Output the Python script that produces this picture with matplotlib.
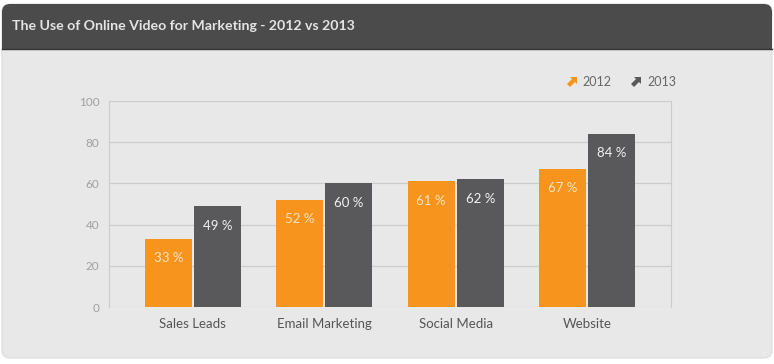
import numpy as np
import matplotlib.pyplot as plt
from matplotlib.patches import FancyBboxPatch, Rectangle, Polygon

plt.rcParams['font.family'] = ['Lato', 'DejaVu Sans']

categories = ['Sales Leads', 'Email Marketing', 'Social Media', 'Website']
v2012 = [33, 52, 61, 67]
v2013 = [49, 60, 62, 84]
yticks = [0, 20, 40, 60, 80, 100]

orange = '#f7941e'
dark = '#59595b'
panel = '#e8e8e8'

fig = plt.figure(figsize=(7.74, 3.64), dpi=100)
fig.patch.set_facecolor('white')

# background panel in pixel coords
bg = fig.add_axes([0, 0, 1, 1])
bg.set_xlim(0, 774)
bg.set_ylim(364, 0)
bg.axis('off')
bg.add_patch(FancyBboxPatch((2, 4), 770, 354, boxstyle='round,pad=0,rounding_size=8',
                            fc=panel, ec='#dcdcdc', lw=0.8))
bg.add_patch(FancyBboxPatch((2, 4), 770, 45, boxstyle='round,pad=0,rounding_size=8',
                            fc='#4b4b4b', ec='none'))
bg.add_patch(Rectangle((2, 30), 770, 19, fc='#4b4b4b', ec='none'))
bg.plot([2, 772], [49, 49], color='#333333', lw=1)
bg.text(12, 26, 'The Use of Online Video for Marketing - 2012 vs 2013', color='#e4e4e4',
        fontsize=10.2, fontweight='bold', va='center', ha='left')


# legend arrow icons (heavy north-east arrow)
def arrow_icon(x0, y0, col, s=1.0):
    pts = [(10, 10), (10, 3), (8, 5), (3, 0), (0, 3), (5, 8), (3, 10)]
    pts = [(x0 + px * s, y0 - py * s) for px, py in pts]
    bg.add_patch(Polygon(pts, closed=True, fc=col, ec='none'))


arrow_icon(567, 87, orange)
bg.text(582, 82, '2012', color='#666666', fontsize=9, va='center', ha='left')
arrow_icon(631, 87, dark)
bg.text(647, 82, '2013', color='#666666', fontsize=9, va='center', ha='left')

ax = fig.add_axes([109 / 774, 1 - 307 / 364, 562 / 774, 206 / 364])
ax.set_facecolor('none')
x = np.arange(len(categories))
w = 0.357
b1 = ax.bar(x - w / 2 - 0.008, v2012, w, color=orange, zorder=3)
b2 = ax.bar(x + w / 2 + 0.008, v2013, w, color=dark, zorder=3)

for bars, vals, col in [(b1, v2012, '#fde3c0'), (b2, v2013, '#f2f2f2')]:
    for r, v in zip(bars, vals):
        ax.annotate(f'{v} %', (r.get_x() + r.get_width() / 2, v), xytext=(0, -14),
                    textcoords='offset points', ha='center', va='center',
                    color=col, fontsize=9.5, zorder=4)

ax.set_xlim(-0.638, 3.638)
ax.set_ylim(0, 100)
ax.set_yticks(yticks)
ax.set_xticks(x)
ax.set_xticklabels(categories, fontsize=9.5, color='#555555')
ax.tick_params(axis='y', length=0, pad=7, labelsize=8.5, labelcolor='#a0a0a0')
ax.tick_params(axis='x', length=0, pad=8)
ax.grid(axis='y', color='#cccccc', lw=0.9, zorder=0)
for s in ['left', 'right']:
    ax.spines[s].set_color('#cccccc')
for s in ['top', 'bottom']:
    ax.spines[s].set_visible(False)

fig.savefig('out.png', dpi=100)
